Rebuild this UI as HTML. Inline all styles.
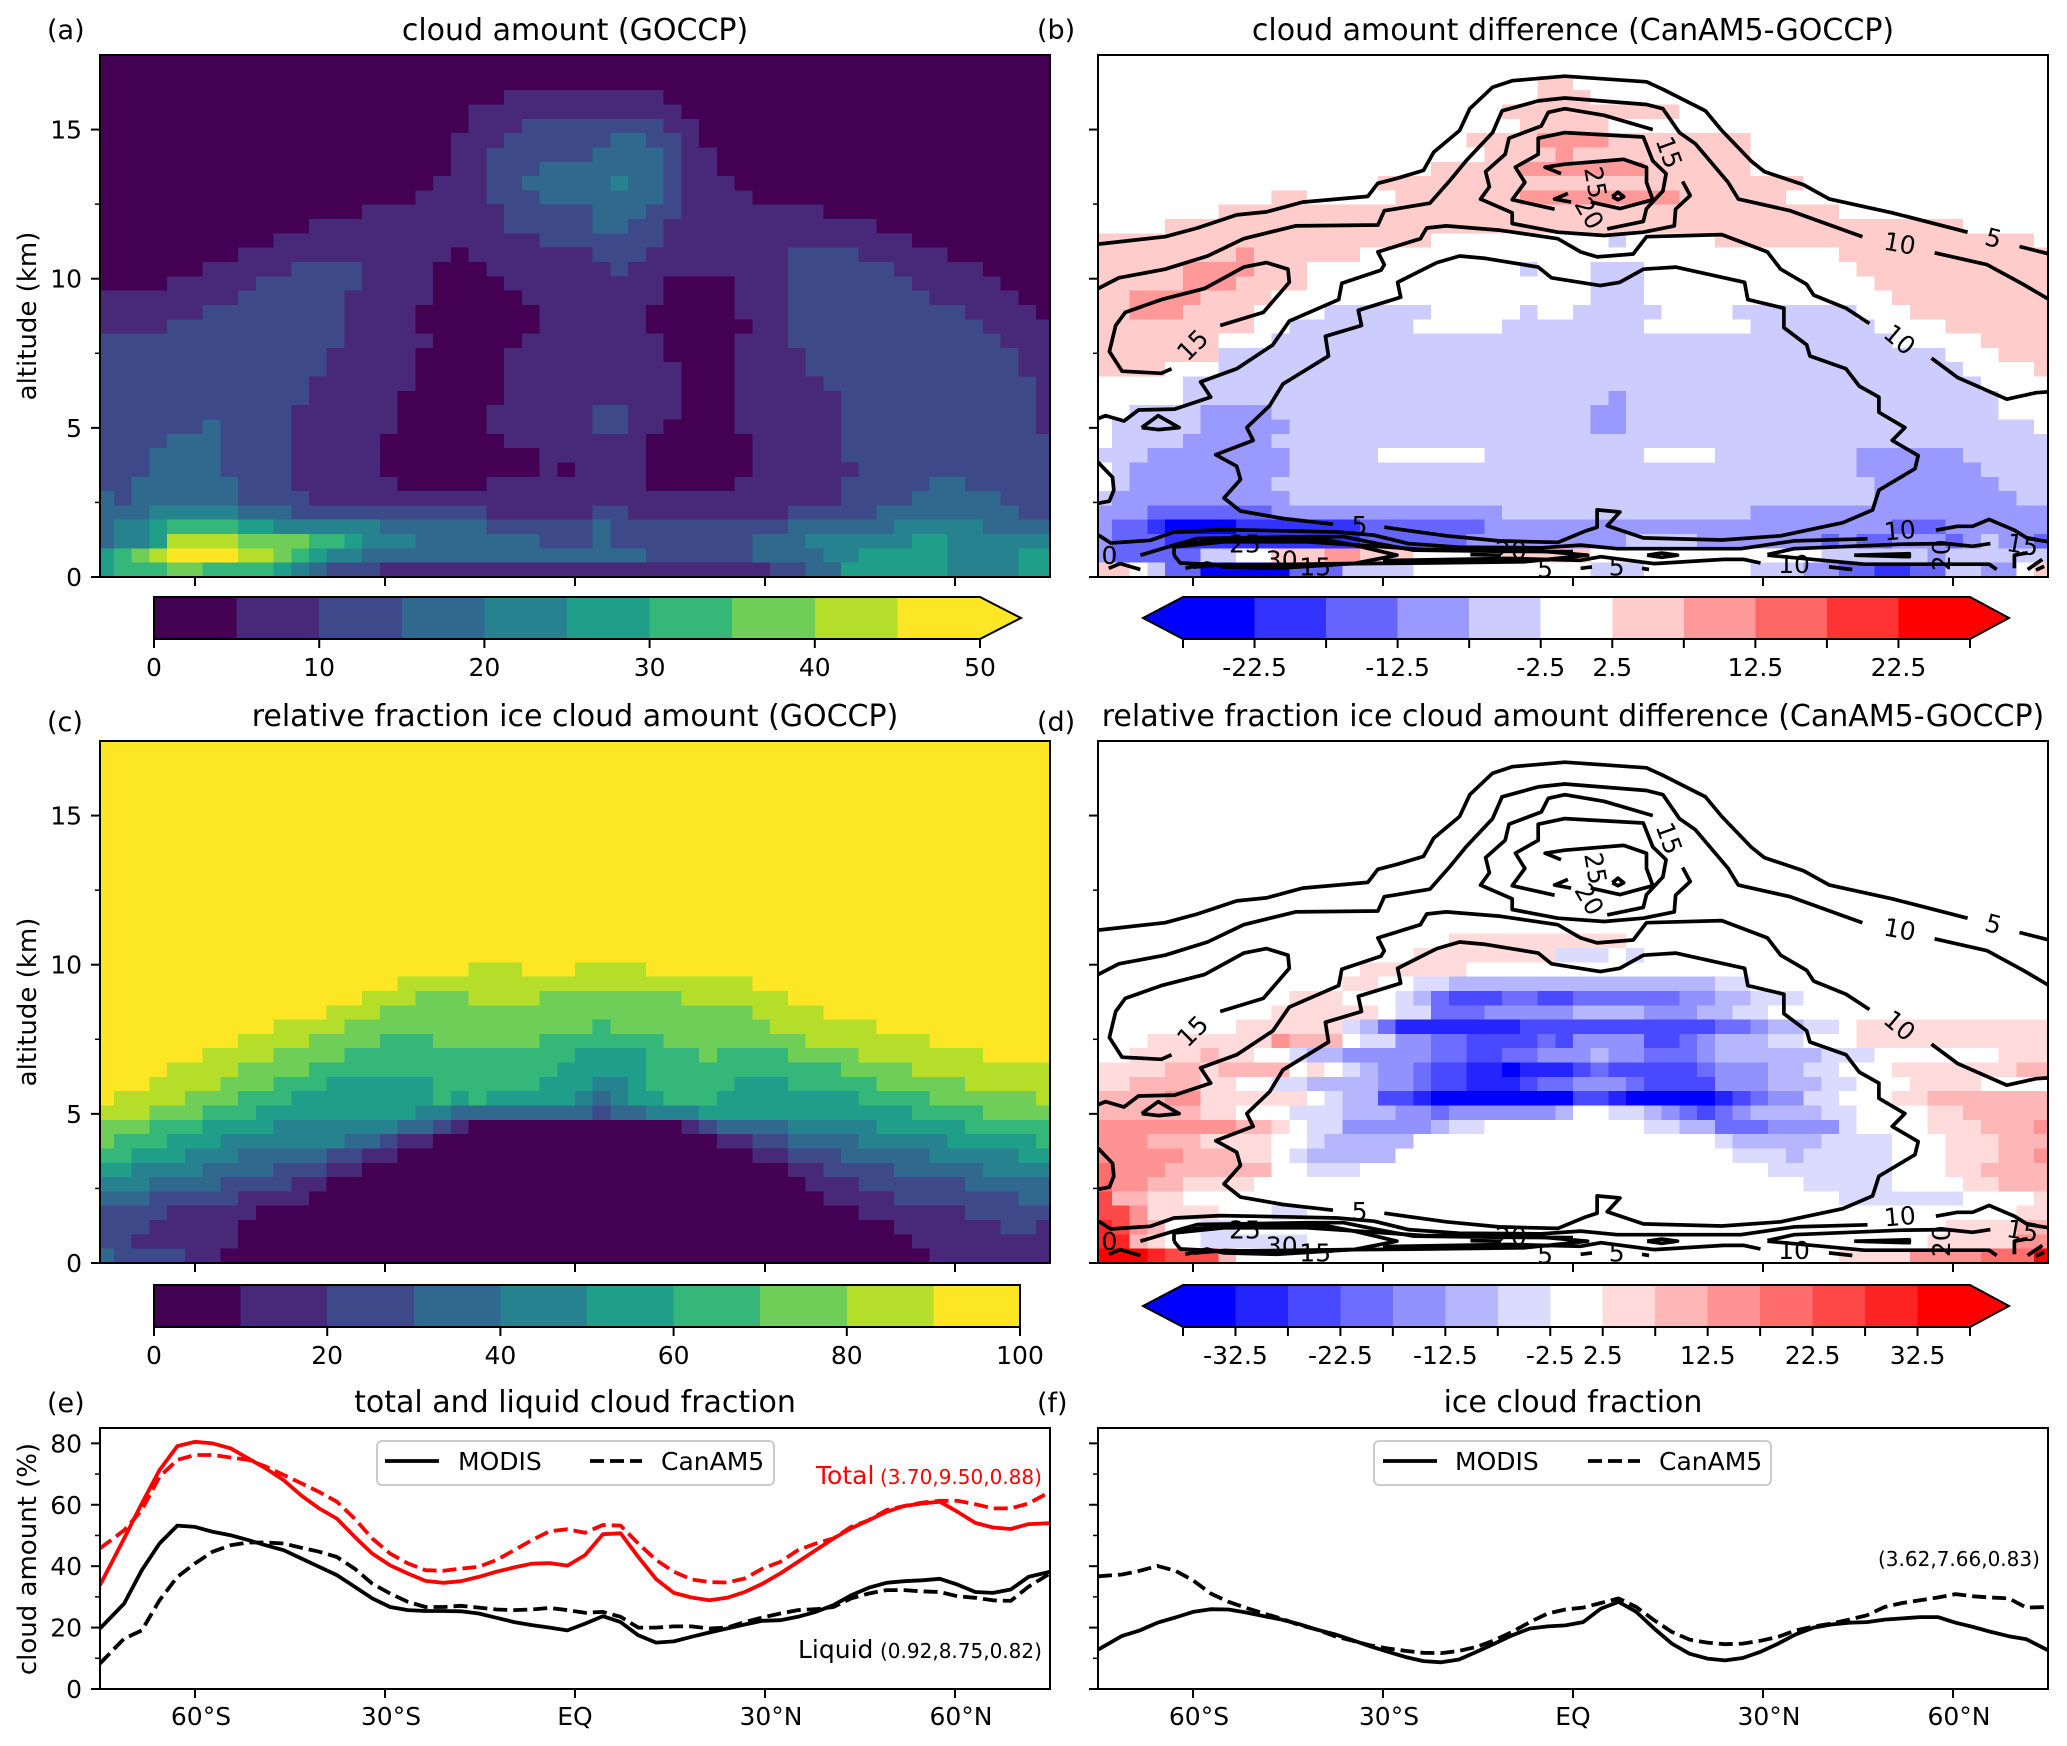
<!DOCTYPE html>
<html lang="en">
<head>
<meta charset="utf-8">
<title>Cloud amount comparison CanAM5 vs GOCCP and MODIS</title>
<style>
html,body{margin:0;padding:0;background:#fff;}
svg{display:block;font-family:"DejaVu Sans","Liberation Sans",sans-serif;}
</style>
</head>
<body>
<svg id="figure" xmlns="http://www.w3.org/2000/svg" width="2067" height="1746" viewBox="0 0 2067 1746">
  <defs>
    <clipPath id="clip-b"><rect x="1098" y="55" width="950" height="522"/></clipPath>
    <clipPath id="clip-d"><rect x="1098" y="741" width="950" height="522"/></clipPath>
    <clipPath id="clip-e"><rect x="100" y="1428" width="950" height="261"/></clipPath>
    <clipPath id="clip-f"><rect x="1098" y="1428" width="950" height="261"/></clipPath>
  </defs>
  <rect x="0" y="0" width="2067" height="1746" fill="#fff"/>
  <g id="layer-marks"></g>

  <text x="47" y="39" font-size="27">(a)</text>
  <text x="1037" y="39" font-size="27">(b)</text>
  <text x="47" y="731" font-size="27">(c)</text>
  <text x="1037" y="731" font-size="27">(d)</text>
  <text x="47" y="1412" font-size="27">(e)</text>
  <text x="1037" y="1412" font-size="27">(f)</text>

  <text x="575" y="40" font-size="30" text-anchor="middle">cloud amount (GOCCP)</text>
  <text x="1573" y="40" font-size="30" text-anchor="middle">cloud amount difference (CanAM5-GOCCP)</text>
  <text x="575" y="726" font-size="30" text-anchor="middle">relative fraction ice cloud amount (GOCCP)</text>
  <text x="1573" y="726" font-size="30" text-anchor="middle">relative fraction ice cloud amount difference (CanAM5-GOCCP)</text>
  <text x="575" y="1412" font-size="30" text-anchor="middle">total and liquid cloud fraction</text>
  <text x="1573" y="1412" font-size="30" text-anchor="middle">ice cloud fraction</text>

  <text transform="translate(36,316) rotate(-90)" font-size="26" text-anchor="middle">altitude (km)</text>
  <text transform="translate(36,1002) rotate(-90)" font-size="26" text-anchor="middle">altitude (km)</text>
  <text transform="translate(36,1559) rotate(-90)" font-size="26" text-anchor="middle">cloud amount (%)</text>

  <g id="legend-e">
    <rect x="377" y="1441" width="397" height="44" rx="5" fill="#fff" fill-opacity="0.85" stroke="#cccccc" stroke-width="2"/>
    <line x1="385" y1="1461" x2="439" y2="1461" stroke="#000" stroke-width="3.8"/>
    <text x="458" y="1470" font-size="25">MODIS</text>
    <line x1="590" y1="1461" x2="642" y2="1461" stroke="#000" stroke-width="3.8" stroke-dasharray="14 6"/>
    <text x="661" y="1470" font-size="25">CanAM5</text>
  </g>
  <g id="legend-f">
    <rect x="1374" y="1441" width="397" height="44" rx="5" fill="#fff" fill-opacity="0.85" stroke="#cccccc" stroke-width="2"/>
    <line x1="1383" y1="1461" x2="1437" y2="1461" stroke="#000" stroke-width="3.8"/>
    <text x="1455" y="1470" font-size="25">MODIS</text>
    <line x1="1588" y1="1461" x2="1640" y2="1461" stroke="#000" stroke-width="3.8" stroke-dasharray="14 6"/>
    <text x="1659" y="1470" font-size="25">CanAM5</text>
  </g>

  <text x="816" y="1484" font-size="25" fill="#ff0000">Total</text>
  <text x="880" y="1484" font-size="20" fill="#ff0000">(3.70,9.50,0.88)</text>
  <text x="798" y="1658" font-size="25">Liquid</text>
  <text x="880" y="1658" font-size="20">(0.92,8.75,0.82)</text>
  <text x="1878" y="1566" font-size="20">(3.62,7.66,0.83)</text>
</svg>

<script>
/* ---------- axes data ---------- */
const latTicks = [-60, -30, 0, 30, 60];
const latTickLabels = ["60°S", "30°S", "EQ", "30°N", "60°N"];
const altMajorTicks = [0, 5, 10, 15];
const altMinorTicks = [2.5, 7.5, 12.5];
const cloudMajorTicks = [0, 20, 40, 60, 80];
const cloudMinorTicks = [10, 30, 50, 70];

/* ---------- colour levels ---------- */
const viridisLevels = ["#440154", "#482878", "#3e4989", "#31688e", "#26828e", "#1f9e89", "#35b779", "#6ece58", "#b5de2b", "#fde725"];
const diffLevels11 = ["#0000ff", "#3333ff", "#6666ff", "#9999ff", "#ccccff", "#ffffff", "#ffcccc", "#ff9999", "#ff6666", "#ff3333", "#ff0000"];
const diffLevels15 = ["#0000ff", "#2424ff", "#4949ff", "#6d6dff", "#9292ff", "#b6b6ff", "#dbdbff", "#ffffff", "#ffdbdb", "#ffb6b6", "#ff9292", "#ff6d6d", "#ff4949", "#ff2424", "#ff0000"];
const cbarTicksA = [0, 10, 20, 30, 40, 50];
const cbarTicksC = [0, 20, 40, 60, 80, 100];
const cbarLabelsB = [-22.5, -12.5, -2.5, 2.5, 12.5, 22.5];
const cbarLabelsD = [-32.5, -22.5, -12.5, -2.5, 2.5, 12.5, 22.5, 32.5];

/* ---------- heatmap values: each row lists value,count pairs going west to east; rows go top to bottom ---------- */
const cloudAmountRows = [
[0,54],[0,54],[0,54],
[0,23,5,9,0,22],
[0,21,5,12,0,21],
[0,21,5,3,10,8,5,2,0,20],
[0,20,5,3,10,6,15,2,10,2,5,1,0,20],
[0,20,5,2,10,6,15,4,10,1,5,2,0,19],
[0,20,5,2,10,3,15,7,10,1,5,2,0,19],
[0,19,5,3,10,2,15,5,20,1,15,2,10,1,5,3,0,18],
[0,18,5,4,10,3,15,7,10,1,5,4,0,17],
[0,15,5,8,10,5,15,3,10,2,5,8,0,13],
[0,12,5,11,10,5,15,2,10,2,5,12,0,10],
[0,10,5,15,10,7,5,14,0,8],
[0,8,5,12,0,1,5,7,10,3,5,8,10,4,5,5,0,6],
[0,6,5,5,10,4,5,4,0,3,5,7,10,1,5,9,10,6,5,5,0,4],
[0,4,5,5,10,6,5,4,0,4,5,9,0,4,5,3,10,7,5,5,0,3],
[5,8,10,6,5,5,0,5,5,8,0,4,5,3,10,8,5,5,0,2],
[5,6,10,8,5,4,0,7,5,6,0,5,5,3,10,10,5,4,0,1],
[5,4,10,10,5,4,0,7,5,6,0,6,5,2,10,11,5,4],
[10,14,5,5,0,5,5,8,0,4,5,3,10,12,5,3],
[10,13,5,5,0,5,5,9,0,4,5,4,10,12,5,2],
[10,13,5,5,0,5,5,10,0,3,5,4,10,12,5,2],
[10,12,5,6,0,5,5,10,0,3,5,5,10,12,5,1],
[10,12,5,5,0,6,5,10,0,3,5,6,10,11,5,1],
[10,11,5,6,0,5,5,6,10,2,5,3,0,3,5,6,10,11,5,1],
[10,6,15,1,10,4,5,6,0,5,5,6,10,2,5,2,0,4,5,6,10,11,5,1],
[10,4,15,3,10,4,5,5,0,7,5,8,0,6,5,5,10,12],
[10,3,15,4,10,4,5,5,0,9,5,6,0,6,5,5,10,12],
[10,3,15,4,10,4,5,5,0,9,5,1,0,1,5,4,0,6,5,6,10,11],
[10,2,15,6,10,3,5,6,0,5,5,9,0,5,5,6,10,5,15,2,10,5],
[15,1,10,1,15,6,10,4,5,30,10,4,15,5,10,3],
[15,3,20,5,15,3,10,11,5,6,10,2,5,9,10,5,15,8,10,2],
[15,1,20,2,25,1,30,4,25,2,20,6,15,6,10,6,15,1,10,10,15,6,20,5,15,4],
[15,1,20,2,25,1,40,4,35,4,30,2,25,1,20,3,15,7,10,3,15,1,10,8,15,3,20,6,25,2,20,6],
[25,1,30,1,35,1,40,1,45,4,40,2,35,1,30,1,25,1,20,2,15,16,10,6,15,4,20,2,25,5,20,4,25,2],
[25,1,30,3,35,2,30,4,25,1,20,1,15,1,10,3,5,22,10,2,15,2,25,6,20,4,25,2]
];

const cloudDiffRows = [
[0,54],[0,54],
[0,25,5,2,0,27],
[0,25,5,3,0,26],
[0,23,5,10,0,21],
[0,24,5,5,0,25],
[0,21,5,4,10,4,5,8,0,17],
[0,22,5,4,10,1,5,10,0,17],
[0,19,5,5,10,7,5,6,0,17],
[0,16,5,24,0,14],
[0,10,5,2,0,5,5,7,10,9,5,6,0,15],
[0,7,5,35,0,12],
[0,4,5,45,0,5],
[5,19,0,10,-5,1,0,5,5,18,0,1],
[5,8,10,1,5,6,0,27,5,12],
[5,5,10,4,5,3,0,12,-5,1,0,3,-5,3,0,12,5,11],
[5,5,10,3,5,4,0,16,-5,3,0,13,5,10],
[5,2,10,4,5,4,0,18,-5,3,0,14,5,9],
[5,2,10,3,5,4,0,4,-5,6,0,5,-5,1,0,2,-5,5,0,4,-5,7,0,3,5,8],
[5,9,0,2,-5,7,0,5,-5,8,0,6,-5,7,0,4,5,6],
[5,7,0,3,-5,35,0,5,5,4],
[5,7,-5,41,0,3,5,3],
[5,4,0,3,-5,42,0,4,5,1],
[0,5,-5,45,0,4],
[0,5,-5,24,-10,1,-5,21,0,3],
[0,2,-5,4,-10,4,-5,18,-10,2,-5,21,0,3],
[0,1,-5,5,-10,5,-5,17,-10,2,-5,23,0,1],
[0,1,-5,4,-10,5,-5,44],
[-5,3,-10,8,-5,5,0,6,-5,9,0,4,-5,8,-10,6,-5,5],
[0,1,-5,1,-10,9,-5,32,-10,7,-5,4],
[0,1,-5,1,-10,8,-5,34,-10,7,-5,3],
[-5,1,-10,10,-5,33,-10,8,-5,2],
[-10,3,-15,7,-10,13,-5,14,-10,17],
[-10,1,-15,2,-20,1,-25,4,-20,7,-15,7,-10,23,-15,3,-10,6],
[-10,1,-15,3,-20,11,-15,6,-10,9,-5,4,-10,7,-15,1,-10,1,-15,2,-10,3,-15,1,-10,1,-5,1,-10,2,-15,1],
[-10,1,-15,5,-5,2,0,2,5,3,10,2,5,3,0,5,5,5,0,13,-5,6,-10,1,-5,6],
[5,2,0,1,-5,1,-15,2,-25,5,-15,3,-5,4,0,10,-5,3,0,6,-5,3,-10,2,-15,2,-20,2,-15,2,-5,2,-10,2,0,1,5,1]
];

const iceFractionRows = [
[90,54],[90,54],[90,54],[90,54],[90,54],[90,54],[90,54],[90,54],
[90,54],[90,54],[90,54],[90,54],[90,54],[90,54],[90,54],[90,54],
[90,21,80,3,90,3,80,4,90,23],
[90,17,80,20,90,17],
[90,15,80,3,70,3,80,4,70,8,80,6,90,15],
[90,13,80,3,70,21,80,4,90,13],
[90,10,80,4,70,14,60,1,70,9,80,6,90,10],
[90,8,80,4,70,4,60,3,70,6,60,7,70,8,80,7,90,7],
[90,6,80,4,70,4,60,13,50,4,60,3,70,1,60,4,70,4,80,7,90,4],
[90,4,80,4,70,4,60,14,50,5,60,11,70,4,80,8],
[90,3,80,4,70,3,60,3,50,6,60,6,50,3,40,2,50,1,60,5,50,3,60,5,70,5,80,5],
[90,1,80,4,70,3,60,3,50,8,60,1,50,1,60,1,50,5,40,1,30,1,40,1,50,2,60,3,50,8,60,4,70,6,80,1],
[80,3,70,3,60,3,50,9,40,2,30,8,20,1,30,2,40,3,50,12,60,4,70,4],
[70,3,60,3,50,4,40,7,30,2,20,1,10,1,0,12,10,1,20,1,30,4,40,5,50,5,60,5],
[70,1,60,3,50,3,40,7,30,2,20,1,10,2,0,16,10,2,20,2,30,4,40,5,50,5,60,1],
[60,2,50,3,40,3,30,5,20,2,10,2,0,20,10,2,20,3,30,5,40,5,50,2],
[50,2,40,4,30,4,20,3,10,2,0,24,10,2,20,4,30,5,40,4],
[40,3,30,4,20,4,10,2,0,27,10,3,20,6,30,5],
[30,3,20,5,10,4,0,29,10,4,20,7,30,2],
[20,4,10,5,0,34,10,6,20,5],
[20,3,10,5,0,37,10,6,20,2,10,1],
[20,2,10,6,0,38,10,8],
[30,1,20,4,10,2,0,40,10,7]
];

const iceDiffRows = [
[0,54],[0,54],[0,54],[0,54],[0,54],[0,54],[0,54],[0,54],[0,54],[0,54],[0,54],[0,54],[0,54],[0,54],
[0,20,5,10,0,24],
[0,18,5,8,-5,3,0,1,-5,1,0,23],
[0,15,5,6,0,33],
[0,14,5,2,0,2,-5,2,-10,15,-5,2,0,17],
[0,11,5,3,0,3,-5,1,-10,1,-20,1,-25,3,-20,2,-25,2,-20,6,-15,2,-10,2,-5,3,0,14],
[0,10,5,6,0,1,-5,2,-20,3,-15,5,-10,4,-15,3,-10,2,-5,2,0,16],
[0,8,5,6,-5,1,-10,1,-20,1,-30,7,-25,11,-20,2,-15,1,-10,2,-5,2,0,1,5,11],
[0,3,5,7,15,1,10,3,0,1,-5,2,-15,2,-20,2,-25,4,-20,1,-25,1,-15,4,-25,2,-20,1,-15,1,-10,3,-5,2,0,3,5,11],
[0,2,5,4,10,1,5,2,0,2,-5,1,-10,2,-15,5,-20,2,-25,2,-20,2,-15,3,-10,1,-15,2,-20,3,-15,1,-10,6,-5,3,0,7,5,3],
[5,4,10,2,5,1,10,4,0,1,5,1,0,1,-5,1,-10,1,-15,2,-20,1,-25,2,-30,2,-35,1,-30,3,-25,1,-20,1,-25,5,-20,1,-15,3,-10,2,-5,2,0,3,5,7,10,2],
[5,2,10,4,5,2,0,2,-5,2,-10,4,-15,2,-20,1,-25,2,-30,3,-25,1,-20,2,-15,3,-20,1,-25,4,-15,3,-10,3,-5,2,0,3,5,4,0,4],
[10,4,15,2,5,6,0,1,-5,1,-10,2,-25,2,-30,1,-35,8,-25,2,-30,1,-35,5,-30,1,-25,1,-20,1,-15,2,-5,2,0,3,5,2,10,7],
[10,6,5,2,0,3,-5,3,-10,3,-15,2,-20,1,-15,6,-10,1,0,2,-5,2,-10,1,-15,1,-20,1,-25,1,-20,1,-15,1,-10,4,-5,2,0,4,5,2,10,5],
[15,8,10,2,5,1,0,1,-5,2,-15,5,-10,1,-5,2,0,9,-5,2,-10,2,-20,3,-15,4,-5,1,0,4,5,3,10,3,15,1],
[15,3,10,3,5,4,0,2,-5,1,-10,5,0,17,-5,1,-10,5,-5,4,0,3,5,3,10,3],
[15,5,10,3,5,2,0,1,-5,1,-10,5,0,19,-5,3,-10,1,-5,5,0,3,5,3,10,2,15,1],
[20,1,15,3,10,6,0,2,-5,3,0,23,-5,7,0,3,5,2,10,4],
[20,1,15,2,10,2,5,4,0,31,-5,5,0,4,5,2,10,3],
[25,1,10,2,5,2,0,37,-5,7,0,4,5,1],
[25,2,15,1,5,4,0,3,-5,2,0,40,5,2],
[30,1,25,1,15,1,10,1,0,2,-5,2,0,40,5,4,10,2],
[30,2,10,1,5,1,0,2,-5,6,0,35,5,5,15,2],
[35,3,30,1,25,3,10,1,0,34,5,4,15,4,20,3,35,1]
];

/* ---------- contours of CanAM5 cloud amount: [latitude, altitude km] ---------- */
const contour5Top = [[-75,11.16],[-70.7,11.26],[-64.4,11.41],[-59.3,11.7],[-53.1,12.14],[-48.4,12.24],[-42.7,12.57],[-32.4,12.76],[-30.8,13.2],[-27.7,13.37],[-23.6,13.63],[-22,14.24],[-17.9,14.97],[-16.3,15.7],[-12.7,16.42],[-9.6,16.64],[-1.3,16.79],[11.6,16.6],[14.2,16.35],[20.9,15.63],[23.5,14.97],[28.1,13.95],[30.2,13.59],[36.4,13.15],[40.5,12.67],[50.4,12.21],[62.3,11.56]];
const contour5TopEnd = [[70.5,11.08],[75.2,10.83]];
const contour10Top = [[-75,9.67],[-71.7,10.03],[-64.4,10.32],[-57.7,10.76],[-52,11.34],[-43.8,11.77],[-30.8,11.8],[-29.8,12.28],[-22.6,12.53],[-19.4,13.3],[-16.9,13.95],[-12.7,14.9],[-11.2,15.63],[-5.5,15.96],[-1.3,16.06],[11.6,15.84],[14.2,15.7],[16.8,14.9],[19.3,14.53],[24.5,13.23],[26.1,12.67],[34.3,12.28],[45.7,11.41]];
const contour10TopEnd = [[57.1,10.87],[65.4,10.47],[71.1,9.81],[75.2,9.3]];
const contour15Ring = [[12.6,15],[4.9,15.48],[-1.3,15.7],[-3.9,15.58],[-5,15.12],[-10.1,14.71],[-10.7,14.17],[-13.8,13.59],[-13.2,13.08],[-14.6,12.67],[-9.6,12.21],[-9.6,11.85],[-2.4,11.56],[4.9,11.45],[11.1,11.56],[16,11.77],[16.2,12.33],[18.5,12.79],[17.3,13.26]];
const contour20Ring = [[-2.9,12.33],[-9.6,12.65],[-7.6,13.23],[-9.1,13.74],[-5.5,14.17],[-5.5,14.71],[-1.3,14.9],[11.1,14.75],[12.6,13.95],[14.7,13.52],[14.2,12.94],[11.6,12.35],[11.1,11.92],[5.4,11.67]];
const contour25Ring = [[-1.9,13.52],[-4.4,13.74],[-1.3,13.84],[8,14],[11.6,13.74],[11.6,13.23],[12.6,12.65],[7.4,12.35],[2.8,12.57]];
const contour25Tick = [[-0.8,12.86],[-2.9,12.67],[-0.3,12.57]];
const contour30Dot = [[6.2,12.75],[7.1,12.9],[8,12.75],[7.1,12.65],[6.2,12.75]];
const contour10Inner = [[-75,5.31],[-73.8,5.41],[-70.9,5.23],[-68.6,5.6],[-62.9,5.63],[-57.2,6.03],[-58.8,6.54],[-53.1,6.98],[-47.4,7.78],[-44.8,8.58],[-37,9.3],[-36.5,9.85],[-30.3,10.29],[-29.8,10.47],[-30.8,10.9],[-24.1,11.34],[-23.1,11.7],[-20,11.77],[-11.7,11.63],[-2.4,11.34],[1.2,10.9],[3.8,10.73],[9.5,10.83],[11.6,11.41],[23.5,11.48],[30.7,10.9],[32.8,10.32],[36.9,9.81],[38,9.45],[43.1,9.01],[46.8,8.5]];
const contour10InnerEnd = [[56.6,7.34],[60.7,6.69],[68.5,5.96],[73.1,6.18],[75.2,6.21]];
const contour15Blob = [[-55.7,8.43],[-48.9,8.87],[-44.8,9.88],[-45,10.32],[-48.4,10.54],[-52,10.39],[-58.2,9.67],[-65,9.3],[-70.7,8.87],[-72.2,8.43],[-73.2,7.56],[-71.2,6.9],[-65,6.83],[-63.4,6.98]];
const contour5Hollow = [[-37.9,1.77],[-45.8,1.96],[-52.5,2.21],[-55.1,2.65],[-52.5,3.27],[-53.1,3.71],[-56.4,4.1],[-50.5,4.58],[-51.5,5.01],[-47.9,5.74],[-45.8,6.47],[-38.6,7.41],[-39.1,8.07],[-33.4,8.43],[-33.9,8.94],[-27.2,9.38],[-27.7,9.88],[-21.5,10.54],[-17.9,10.76],[-13.8,10.68],[-5.5,10.39],[-3.4,10.03],[4.3,9.77],[7.4,9.88],[11.1,10.32],[16.2,10.39],[27.1,9.88],[27.6,9.3],[33.3,9.01],[33.3,8.36],[36.9,7.78],[37.4,7.41],[43.1,6.98],[45.2,6.4],[48.3,6.03],[48.3,5.52],[52.4,5.01],[50.4,4.58],[54.5,4.07],[54,3.63],[48.3,2.91],[47.3,2.25],[42.6,1.82],[32.8,1.38],[23.5,1.24],[11.1,1.31],[5.4,1.72],[7.4,2.18],[3.8,2.25],[3.8,1.67],[1.8,1.53],[-2.4,1.16],[-11.7,1.21],[-20,1.38],[-29.8,1.67]];
const contourTriangle = [[-68.1,5.01],[-65.5,5.41],[-62.2,5.01],[-65.5,4.94],[-68.1,5.01]];
const contourLeftEdge = [[-75,3.85],[-72.7,3.34],[-72.5,2.91],[-73.2,2.54],[-75,2.47]];
const lowLine1 = [[-74.9,1.40],[-73,1.14],[-66.7,1.23],[-63,1.51],[-55.7,1.59],[-45.7,1.55],[-37.2,1.51],[-31.4,1.40],[-26,1.12],[-18,1.0],[-5,0.98],[1.2,1.07],[7,.95],[26.5,.95],[34.9,1.21],[46.5,1.28]];
const lowLine1End = [[57.3,1.57],[60.7,1.70],[63.1,1.70],[65.7,1.93],[69.7,1.57],[71.8,1.29],[75.2,1.18]];
const lowLine2 = [[-68.3,.73],[-63,1.07],[-59.3,1.29],[-42,1.35],[-36.2,1.35],[-30.9,1.12],[-25.1,.9],[-10.9,.86],[0,.85]];
const lowLens = [[-63,.73],[-62,.47],[-55.1,.40],[-35.1,.45],[-23.5,.47],[-7.7,.51],[2.3,.73],[-7.7,.92],[-23.5,.92],[-34,1.07],[-42,1.18],[-55.1,1.18],[-63,1.01],[-63,.73]];
const lowLens2 = [[-55.1,1.29],[-39.3,1.26],[-34.6,1.07],[-27.8,.73],[-34.6,.45],[-46.7,.40]];
const lowThick1 = [[-61.2,.29],[-57.8,.47],[-55.1,.34],[-46.7,.29],[-35.1,.45]];
const lowThick2 = [[-60,.33],[-55,.42],[-46.7,.36],[-38,.4]];
const lowThick3 = [[-62,1.1],[-55,1.24],[-42,1.25]];
const lowSeg20 = [[-16.2,.75],[-11.4,.73]];
const lowLensSmall = [[11.7,.73],[14,.80],[16.5,.73],[14,.66],[11.7,.73]];
const lowWedge = [[44.4,.73],[53.1,.78],[53.1,.68],[44.4,.73]];
const lowRightUpper = [[30.7,.75],[34.9,.95],[51.8,1.10],[59.1,1.12],[63.1,1.03],[65.9,1.12]];
const lowRightLower = [[30.7,.73],[46,.43],[65.7,.43],[66.9,.25]];
const low5Line = [[-30,.55],[-10,.62],[1.2,.56],[4.4,.68],[12.8,.45],[23.8,.59],[27,.59],[29.6,.47]];
const lowDash1 = [[1.2,.29],[3,.34]];
const lowDash2 = [[10.9,.29],[12,.25]];
const lowDash3 = [[40.4,.34],[44.1,.25]];
const lowDash4 = [[71.8,.81],[69.7,.73],[69.7,.29]];
const lowDash5 = [[71.8,.25],[74.1,.59]];
const lowDash6 = [[73.1,.23],[74.4,.36]];
const lowChevron = [[-73.3,.29],[-71.5,.45],[-68.3,.25]];
const contourLines = [contour5Top, contour5TopEnd, contour10Top, contour10TopEnd, contour15Ring, contour20Ring, contour25Ring, contour25Tick, contour30Dot, contour10Inner, contour10InnerEnd, contour15Blob, contour5Hollow, contourTriangle, contourLeftEdge, lowLine1, lowLine1End, lowLine2, lowLens, lowLens2, lowThick1, lowThick2, lowThick3, lowSeg20, lowLensSmall, lowWedge, lowRightUpper, lowRightLower, low5Line, lowDash1, lowDash2, lowDash3, lowDash4, lowDash5, lowDash6, lowChevron];
const contourLabelText = ["5","10","10","15","25","20","15","5","10","20","5","5","10","20","15","25","30","15","0"];
const contourLabelLat = [66.4,51.6,51.6,15.2,3.6,2.6,-60.1,-33.7,51.6,-9.8,6.9,-4.4,34.9,58.1,71,-51.8,-46,-40.7,-73.2];
const contourLabelAlt = [11.37,11.19,7.97,14.24,13.23,12.2,7.78,1.74,1.57,.9,.36,.29,.44,.73,1.09,1.13,.58,.36,.73];
const contourLabelAngle = [15,10,40,70,80,60,-45,0,-5,0,0,0,0,-90,10,0,0,0,0];

/* ---------- zonal mean line series ---------- */
const latitudes = [-75,-71.2,-68.4,-65.6,-62.8,-60,-57.2,-54.4,-51.6,-48.8,-46,-43.2,-40.4,-37.6,-34.8,-32,-29.2,-26.4,-23.6,-20.8,-18,-15.2,-12.4,-9.6,-6.8,-4,-1.2,1.6,4.4,7.2,10,12.8,15.6,18.4,21.2,24,26.8,29.6,32.4,35.2,38,40.8,43.6,46.4,49.2,52,54.8,57.6,60.4,63.2,66,68.8,71.6,75];
const totalModis = [33.8,49,60.4,71.3,79.1,80.5,80,78.4,75.1,71.8,68,63,58.8,55.5,49.6,44.1,40.3,37.6,35.2,34.6,35.1,36.5,38.2,39.6,40.8,41,40.2,43.6,50.4,50.7,43,35.8,31.3,29.8,28.9,29.7,31.6,34.3,37.6,41.4,45.2,49,52.3,55,57.7,59.6,60.4,61,57.7,54.1,52.6,52.1,53.7,54];
const totalCanam = [45.8,51.7,58.3,69.1,74.6,76.2,76.2,75.4,74.6,72.4,69.7,67,64.2,61,55.5,49,44.1,40.9,38.7,38.5,39.2,39.8,42,45.2,48.5,51.4,52,50.9,53.4,53.2,47.4,42,38.2,35.7,34.8,34.7,36,39.2,41.4,45.2,47.4,49,52.8,55,58.3,59.6,60.7,61.3,61.3,60.2,58.8,58.8,60.4,64.2];
const liquidModis = [19.7,27.8,38.7,47.4,53.2,52.8,51.2,50.1,48.5,46.8,45.2,42.5,39.8,37.1,33.3,29.5,26.7,25.7,25.4,25.4,25.3,24.6,23.2,21.8,20.8,20,19.1,21.3,23.7,21.8,17.5,15.1,15.5,17,18.4,19.7,21,22.2,22.4,23.5,25.1,27.3,30.5,33,34.6,35.1,35.4,35.9,34,31.6,31.3,32.4,36.5,38.2];
const liquidCanam = [8.3,16.4,19.1,28.9,36.5,40.9,44.7,46.8,47.7,47.7,47.4,46,44.7,43,39.2,34.3,31.1,28.4,26.7,26.7,27.1,26.5,25.9,25.7,25.9,26.4,25.7,24.8,25.1,23.5,20,20,20.4,20.4,19.7,20,21.8,23.3,24.6,25.7,26,26.7,29.5,31.1,32.2,32.2,31.8,31.6,30.2,29.7,28.9,28.7,33.3,37.6];
const iceModis = [12.8,17.3,19.1,21.6,23.3,25.1,26,25.9,24.9,23.7,22.6,21.1,19.3,17.8,15.9,13.9,12.1,10.4,9.1,8.7,9.6,12.1,14.8,17.5,19.7,20.4,20.7,21.8,26.2,28.4,25.1,19.7,14.8,11.5,9.9,9.3,10.1,12.1,14.8,17.8,20,21,21.6,21.8,22.6,23,23.4,23.4,21.6,20.2,18.6,17.2,16.2,12.6];
const iceCanam = [36.7,37.3,38.5,40.1,38.5,35.4,31.1,28.4,26.4,24.6,22.9,20.8,19.3,17.2,15.7,14.2,13.2,12.4,11.8,11.7,12.4,13.7,15.9,18.6,21.8,24.6,25.9,26.5,28,29.5,26.7,22.4,18.6,16.1,15.1,14.6,14.8,15.7,17,19.1,20.4,21.3,22.6,24,26.7,28,28.9,29.8,30.9,30.2,29.8,29.5,26.5,26.7];

/* ---------- geometry ---------- */
const NS = "http://www.w3.org/2000/svg";
const marks = document.getElementById("layer-marks");
const panelA = {L:100, R:1050, T:55, B:577};
const panelB = {L:1098, R:2048, T:55, B:577};
const panelC = {L:100, R:1050, T:741, B:1263};
const panelD = {L:1098, R:2048, T:741, B:1263};
const panelE = {L:100, R:1050, T:1428, B:1689};
const panelF = {L:1098, R:2048, T:1428, B:1689};
const ALT_MAX = 17.5, CLOUD_MAX = 85;

function xScale(p, lat){ return p.L + (lat + 75) / 150 * (p.R - p.L); }
function yAlt(p, alt){ return p.B - alt / ALT_MAX * (p.B - p.T); }
function yCloud(p, v){ return p.B - v / CLOUD_MAX * (p.B - p.T); }
function binViridis(step){ return function(v){ return viridisLevels[Math.max(0, Math.min(9, Math.floor(v / step)))]; }; }
function binDiff(levels){ var mid = (levels.length - 1) / 2; return function(v){ return levels[Math.max(0, Math.min(levels.length - 1, Math.round(v / 5) + mid))]; }; }

function drawHeatmap(p, rows, colorOf, name){
  var g = document.createElementNS(NS, "g");
  
  
  g.setAttribute("shape-rendering", "crispEdges");
  var n = rows.length;
  rows.forEach(function(row, idx){
    var rowIdx = n - 1 - idx;
    var altLo = rowIdx * 0.48, altHi = Math.min(ALT_MAX, (rowIdx + 1) * 0.48);
    var col = 0;
    for (var j = 0; j < row.length; j += 2){
      var value = row[j], count = row[j + 1];
      for (var c = 0; c < count; c++, col++){
        var lat0 = Math.max(-75, (col - 27) * 2.8), lat1 = Math.min(75, (col - 26) * 2.8);
        var x0 = xScale(p, lat0), x1 = xScale(p, lat1);
        var y0 = yAlt(p, altHi), y1 = yAlt(p, altLo);
        var r = document.createElementNS(NS, "rect");
        
        
        r.setAttribute("x", x0.toFixed(2));
        r.setAttribute("y", y0.toFixed(2));
        r.setAttribute("width", (x1 - x0 + 0.5).toFixed(2));
        r.setAttribute("height", (y1 - y0 + 0.5).toFixed(2));
        r.setAttribute("fill", colorOf(value));
        g.appendChild(r);
      }
    }
  });
  marks.appendChild(g);
}

function pathFrom(points, xf, yf){
  return points.map(function(pt, i){ return (i ? "L" : "M") + xf(pt[0]).toFixed(1) + " " + yf(pt[1]).toFixed(1); }).join("");
}

function drawContours(p, clipId, name){
  var g = document.createElementNS(NS, "g");
  
  
  g.setAttribute("clip-path", "url(#" + clipId + ")");
  contourLines.forEach(function(points){
    var path = document.createElementNS(NS, "path");
    
    
    path.setAttribute("d", pathFrom(points, function(a){ return xScale(p, a); }, function(b){ return yAlt(p, b); }));
    path.setAttribute("fill", "none");
    path.setAttribute("stroke", "#000");
    path.setAttribute("stroke-width", "3.7");
    path.setAttribute("stroke-linejoin", "round");
    g.appendChild(path);
  });
  contourLabelText.forEach(function(label, i){
    var t = document.createElementNS(NS, "text");
    
    
    var cx = xScale(p, contourLabelLat[i]), cy = yAlt(p, contourLabelAlt[i]);
    t.setAttribute("transform", "translate(" + cx.toFixed(1) + "," + cy.toFixed(1) + ") rotate(" + contourLabelAngle[i] + ")");
    t.setAttribute("text-anchor", "middle");
    t.setAttribute("y", "9");
    t.setAttribute("font-size", "25");
    t.textContent = label;
    g.appendChild(t);
  });
  marks.appendChild(g);
}

function drawSeries(p, clipId, values, color, dashed, name){
  var path = document.createElementNS(NS, "path");
  
  
  path.setAttribute("clip-path", "url(#" + clipId + ")");
  var pts = latitudes.map(function(lat, i){ return [lat, values[i]]; });
  path.setAttribute("d", pathFrom(pts, function(a){ return xScale(p, a); }, function(b){ return yCloud(p, b); }));
  path.setAttribute("fill", "none");
  path.setAttribute("stroke", color);
  path.setAttribute("stroke-width", "3.8");
  path.setAttribute("stroke-linejoin", "round");
  if (dashed) path.setAttribute("stroke-dasharray", "14 6");
  marks.appendChild(path);
}

function tickLine(x1, y1, x2, y2, w, name){
  var l = document.createElementNS(NS, "line");
  
  
  l.setAttribute("x1", x1); l.setAttribute("y1", y1);
  l.setAttribute("x2", x2); l.setAttribute("y2", y2);
  l.setAttribute("stroke", "#000");
  l.setAttribute("stroke-width", w);
  marks.appendChild(l);
}

function tickText(label, x, y, anchor, name){
  var t = document.createElementNS(NS, "text");
  
  
  t.setAttribute("x", x); t.setAttribute("y", y);
  t.setAttribute("text-anchor", anchor);
  t.setAttribute("font-size", "25");
  t.textContent = label;
  marks.appendChild(t);
}

function drawFrameAndTicks(p, yf, major, minor, showY, showX){
  var fr = document.createElementNS(NS, "rect");
  
  
  fr.setAttribute("x", p.L); fr.setAttribute("y", p.T);
  fr.setAttribute("width", p.R - p.L); fr.setAttribute("height", p.B - p.T);
  fr.setAttribute("fill", "none"); fr.setAttribute("stroke", "#000"); fr.setAttribute("stroke-width", "2");
  marks.appendChild(fr);
  major.forEach(function(v){
    var y = yf(p, v);
    tickLine(p.L - 9, y, p.L, y, 2, "y-tick");
    if (showY) tickText(String(v), p.L - 18, y + 9, "end", "y-tick-label");
  });
  minor.forEach(function(v){
    var y = yf(p, v);
    tickLine(p.L - 5, y, p.L, y, 1.5, "y-minor-tick");
  });
  latTicks.forEach(function(lat, i){
    var x = xScale(p, lat);
    tickLine(x, p.B, x, p.B + 9, 2, "x-tick");
    if (showX) tickText(latTickLabels[i], lat === 0 ? x : x + 6, p.B + 36, "middle", "x-tick-label");
  });
}

function drawColorbar(cfg){
  var g = document.createElementNS(NS, "g");
  
  
  var n = cfg.colors.length;
  var sx = function(v){ return cfg.x0 + (v - cfg.vmin) / (cfg.vmax - cfg.vmin) * (cfg.x1 - cfg.x0); };
  var step = (cfg.vmax - cfg.vmin) / n;
  for (var i = 0; i < n; i++){
    var r = document.createElementNS(NS, "rect");
    
    
    r.setAttribute("x", sx(cfg.vmin + i * step).toFixed(2));
    r.setAttribute("y", cfg.y0);
    r.setAttribute("width", (sx(cfg.vmin + (i + 1) * step) - sx(cfg.vmin + i * step) + 0.5).toFixed(2));
    r.setAttribute("height", cfg.y1 - cfg.y0);
    r.setAttribute("fill", cfg.colors[i]);
    r.setAttribute("shape-rendering", "crispEdges");
    g.appendChild(r);
  }
  var ym = (cfg.y0 + cfg.y1) / 2;
  var d = "M" + cfg.x0 + " " + cfg.y0 + "L" + cfg.x1 + " " + cfg.y0;
  if (cfg.extRight){
    var tr = document.createElementNS(NS, "polygon");
    
    
    tr.setAttribute("points", cfg.x1 + "," + cfg.y0 + " " + cfg.extRight + "," + ym + " " + cfg.x1 + "," + cfg.y1);
    tr.setAttribute("fill", cfg.colors[n - 1]);
    g.appendChild(tr);
    d += "L" + cfg.extRight + " " + ym + "L" + cfg.x1 + " " + cfg.y1;
  } else {
    d += "L" + cfg.x1 + " " + cfg.y1;
  }
  d += "L" + cfg.x0 + " " + cfg.y1;
  if (cfg.extLeft){
    var tl = document.createElementNS(NS, "polygon");
    
    
    tl.setAttribute("points", cfg.x0 + "," + cfg.y0 + " " + cfg.extLeft + "," + ym + " " + cfg.x0 + "," + cfg.y1);
    tl.setAttribute("fill", cfg.colors[0]);
    g.appendChild(tl);
    d += "L" + cfg.extLeft + " " + ym;
  }
  d += "Z";
  var o = document.createElementNS(NS, "path");
  
  
  o.setAttribute("d", d);
  o.setAttribute("fill", "none");
  o.setAttribute("stroke", "#000");
  o.setAttribute("stroke-width", "2");
  g.appendChild(o);
  marks.appendChild(g);
  for (var v = cfg.vmin; v <= cfg.vmax + 0.001; v += cfg.tickStep){
    tickLine(sx(v), cfg.y1, sx(v), cfg.y1 + 9, 2, "colorbar-tick");
  }
  cfg.labels.forEach(function(v){
    tickText(String(v), sx(v), cfg.y1 + 37, "middle", "colorbar-tick-label");
  });
}

/* ---------- draw ---------- */
drawHeatmap(panelA, cloudAmountRows, binViridis(5), "heatmap-cloud-amount");
drawHeatmap(panelB, cloudDiffRows, binDiff(diffLevels11), "heatmap-cloud-difference");
drawHeatmap(panelC, iceFractionRows, binViridis(10), "heatmap-ice-fraction");
drawHeatmap(panelD, iceDiffRows, binDiff(diffLevels15), "heatmap-ice-difference");
drawContours(panelB, "clip-b", "contours-b");
drawContours(panelD, "clip-d", "contours-d");

drawSeries(panelE, "clip-e", totalModis, "#ff0000", false, "line-total-modis");
drawSeries(panelE, "clip-e", totalCanam, "#ff0000", true, "line-total-canam5");
drawSeries(panelE, "clip-e", liquidModis, "#000000", false, "line-liquid-modis");
drawSeries(panelE, "clip-e", liquidCanam, "#000000", true, "line-liquid-canam5");
drawSeries(panelF, "clip-f", iceModis, "#000000", false, "line-ice-modis");
drawSeries(panelF, "clip-f", iceCanam, "#000000", true, "line-ice-canam5");

drawFrameAndTicks(panelA, yAlt, altMajorTicks, altMinorTicks, true, false);
drawFrameAndTicks(panelB, yAlt, altMajorTicks, altMinorTicks, false, false);
drawFrameAndTicks(panelC, yAlt, altMajorTicks, altMinorTicks, true, false);
drawFrameAndTicks(panelD, yAlt, altMajorTicks, altMinorTicks, false, false);
drawFrameAndTicks(panelE, yCloud, cloudMajorTicks, cloudMinorTicks, true, true);
drawFrameAndTicks(panelF, yCloud, cloudMajorTicks, cloudMinorTicks, false, true);

drawColorbar({name:"colorbar-a", colors:viridisLevels, vmin:0, vmax:50, x0:154, x1:980, y0:597, y1:639, extRight:1021, tickStep:10, labels:cbarTicksA});
drawColorbar({name:"colorbar-b", colors:diffLevels11, vmin:-27.5, vmax:27.5, x0:1183, x1:1970, y0:597, y1:639, extLeft:1143, extRight:2009, tickStep:5, labels:cbarLabelsB});
drawColorbar({name:"colorbar-c", colors:viridisLevels, vmin:0, vmax:100, x0:154, x1:1020, y0:1285, y1:1327, tickStep:20, labels:cbarTicksC});
drawColorbar({name:"colorbar-d", colors:diffLevels15, vmin:-37.5, vmax:37.5, x0:1183, x1:1970, y0:1285, y1:1327, extLeft:1143, extRight:2009, tickStep:5, labels:cbarLabelsD});
</script>
</body>
</html>
